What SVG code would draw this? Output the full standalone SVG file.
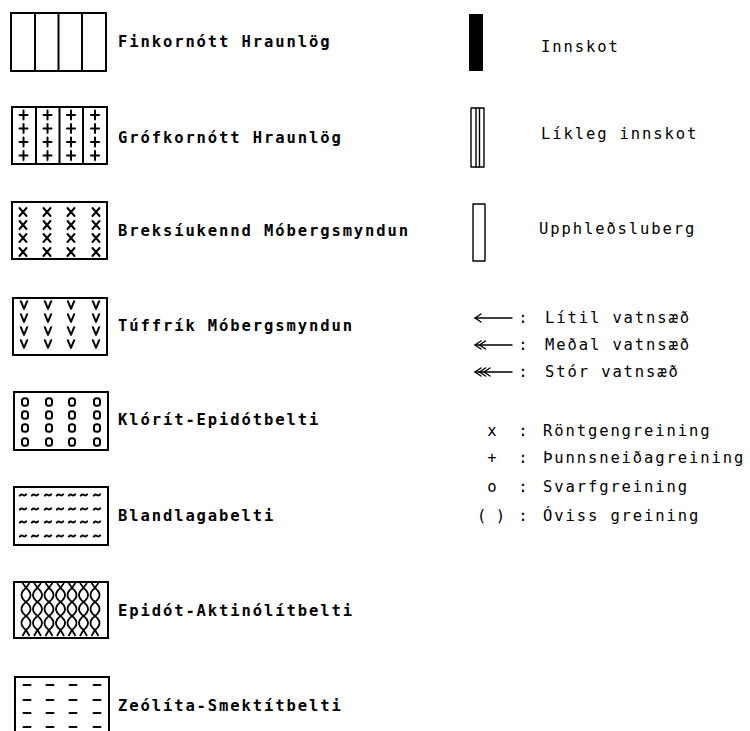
<svg xmlns="http://www.w3.org/2000/svg" xmlns:xlink="http://www.w3.org/1999/xlink" width="750" height="731" viewBox="0 0 750 731">
  <style>
    .frame { fill: #fff; stroke: #000; stroke-width: 2; }
    .ln { fill: none; stroke: #000; stroke-width: 2; stroke-linecap: round; stroke-linejoin: round; }
    .thin { fill: none; stroke: #000; stroke-width: 1.4; stroke-linecap: round; stroke-linejoin: round; }
    text { font-family: "DejaVu Sans Mono", "Liberation Mono", monospace; font-size: 15.5px; font-weight: bold; letter-spacing: 1.9px; fill: #000; }
    .light { font-weight: normal; }
    .mid { text-anchor: middle; letter-spacing: 0; }
  </style>
  <defs>
    <path id="plus" class="ln" d="M0,-4.5 V4.5 M-4,0 H4"/>
    <path id="cross" class="ln" d="M-3.5,-4 L3.5,4 M3.5,-4 L-3.5,4"/>
    <path id="vee" class="ln" d="M-3.2,-3.8 L0,3.8 L3.2,-3.8"/>
    <rect id="ring" class="ln" x="-3" y="-3.8" width="6" height="7.6" rx="2.6"/>
    <path id="wave" class="ln" d="M-3.2,0.6 Q-1.6,-1.2 0,0 T3.2,-0.6"/>
    <path id="dash" class="ln" d="M-3.5,0 H3.5"/>
    <path id="chain" fill="none" stroke="#000" stroke-width="1.8" d="M3.5,583 Q1.5,585.5 0,588 C-6,592.7 -6,597.3 0,602 C6,606.7 6,611.3 0,616 C-6,620.7 -6,625.3 0,630 Q1.5,632.5 3.5,636 M-3.5,583 Q-1.5,585.5 0,588 C6,592.7 6,597.3 0,602 C-6,606.7 -6,611.3 0,616 C6,620.7 6,625.3 0,630 Q-1.5,632.5 -3.5,636"/>
    <path id="chevron" class="thin" d="M6,-4 L0,0 L6,4"/>
  </defs>

  <!-- Rock units: left column -->
  <g id="finkornott">
    <rect class="frame" x="11" y="13" width="95" height="58"/>
    <path class="ln" d="M35,13 V71 M58.5,13 V71 M82,13 V71"/>
    <text x="118" y="47">Finkornótt Hraunlög</text>
  </g>

  <g id="grofkornott">
    <rect class="frame" x="12" y="107" width="95" height="57"/>
    <path class="ln" d="M36,107 V164 M59.5,107 V164 M83,107 V164"/>
    <g>
      <use xlink:href="#plus" x="23.5" y="115"/><use xlink:href="#plus" x="47.5" y="115"/><use xlink:href="#plus" x="71" y="115"/><use xlink:href="#plus" x="95" y="115"/>
      <use xlink:href="#plus" x="23.5" y="128.5"/><use xlink:href="#plus" x="47.5" y="128.5"/><use xlink:href="#plus" x="71" y="128.5"/><use xlink:href="#plus" x="95" y="128.5"/>
      <use xlink:href="#plus" x="23.5" y="142"/><use xlink:href="#plus" x="47.5" y="142"/><use xlink:href="#plus" x="71" y="142"/><use xlink:href="#plus" x="95" y="142"/>
      <use xlink:href="#plus" x="23.5" y="155.5"/><use xlink:href="#plus" x="47.5" y="155.5"/><use xlink:href="#plus" x="71" y="155.5"/><use xlink:href="#plus" x="95" y="155.5"/>
    </g>
    <text x="118" y="143">Grófkornótt Hraunlög</text>
  </g>

  <g id="breksiukennd">
    <rect class="frame" x="12" y="202" width="95" height="57"/>
    <g>
      <use xlink:href="#cross" x="23" y="212"/><use xlink:href="#cross" x="47" y="212"/><use xlink:href="#cross" x="71" y="212"/><use xlink:href="#cross" x="96" y="212"/>
      <use xlink:href="#cross" x="23" y="225"/><use xlink:href="#cross" x="47" y="225"/><use xlink:href="#cross" x="71" y="225"/><use xlink:href="#cross" x="96" y="225"/>
      <use xlink:href="#cross" x="23" y="238"/><use xlink:href="#cross" x="47" y="238"/><use xlink:href="#cross" x="71" y="238"/><use xlink:href="#cross" x="96" y="238"/>
      <use xlink:href="#cross" x="23" y="252"/><use xlink:href="#cross" x="47" y="252"/><use xlink:href="#cross" x="71" y="252"/><use xlink:href="#cross" x="96" y="252"/>
    </g>
    <text x="118" y="236">Breksíukennd Móbergsmyndun</text>
  </g>

  <g id="tuffrik">
    <rect class="frame" x="13" y="298" width="94" height="57"/>
    <g>
      <use xlink:href="#vee" x="24" y="305"/><use xlink:href="#vee" x="48" y="305"/><use xlink:href="#vee" x="71" y="305"/><use xlink:href="#vee" x="96" y="305"/>
      <use xlink:href="#vee" x="24" y="318"/><use xlink:href="#vee" x="48" y="318"/><use xlink:href="#vee" x="71" y="318"/><use xlink:href="#vee" x="96" y="318"/>
      <use xlink:href="#vee" x="24" y="331"/><use xlink:href="#vee" x="48" y="331"/><use xlink:href="#vee" x="71" y="331"/><use xlink:href="#vee" x="96" y="331"/>
      <use xlink:href="#vee" x="24" y="344"/><use xlink:href="#vee" x="48" y="344"/><use xlink:href="#vee" x="71" y="344"/><use xlink:href="#vee" x="96" y="344"/>
    </g>
    <text x="118" y="331">Túffrík Móbergsmyndun</text>
  </g>

  <g id="klorit-epidot">
    <rect class="frame" x="14" y="392" width="94" height="58"/>
    <g>
      <use xlink:href="#ring" x="25" y="402"/><use xlink:href="#ring" x="49" y="402"/><use xlink:href="#ring" x="72" y="402"/><use xlink:href="#ring" x="97" y="402"/>
      <use xlink:href="#ring" x="25" y="415"/><use xlink:href="#ring" x="49" y="415"/><use xlink:href="#ring" x="72" y="415"/><use xlink:href="#ring" x="97" y="415"/>
      <use xlink:href="#ring" x="25" y="428"/><use xlink:href="#ring" x="49" y="428"/><use xlink:href="#ring" x="72" y="428"/><use xlink:href="#ring" x="97" y="428"/>
      <use xlink:href="#ring" x="25" y="442"/><use xlink:href="#ring" x="49" y="442"/><use xlink:href="#ring" x="72" y="442"/><use xlink:href="#ring" x="97" y="442"/>
    </g>
    <text x="118" y="425">Klórít-Epidótbelti</text>
  </g>

  <g id="blandlaga">
    <rect class="frame" x="14" y="487" width="94" height="58"/>
    <g>
      <use xlink:href="#wave" x="23" y="495"/><use xlink:href="#wave" x="35" y="495"/><use xlink:href="#wave" x="48" y="495"/><use xlink:href="#wave" x="60" y="495"/><use xlink:href="#wave" x="72" y="495"/><use xlink:href="#wave" x="84" y="495"/><use xlink:href="#wave" x="97" y="495"/>
      <use xlink:href="#wave" x="23" y="509"/><use xlink:href="#wave" x="35" y="509"/><use xlink:href="#wave" x="48" y="509"/><use xlink:href="#wave" x="60" y="509"/><use xlink:href="#wave" x="72" y="509"/><use xlink:href="#wave" x="84" y="509"/><use xlink:href="#wave" x="97" y="509"/>
      <use xlink:href="#wave" x="23" y="522"/><use xlink:href="#wave" x="35" y="522"/><use xlink:href="#wave" x="48" y="522"/><use xlink:href="#wave" x="60" y="522"/><use xlink:href="#wave" x="72" y="522"/><use xlink:href="#wave" x="84" y="522"/><use xlink:href="#wave" x="97" y="522"/>
      <use xlink:href="#wave" x="23" y="536"/><use xlink:href="#wave" x="35" y="536"/><use xlink:href="#wave" x="48" y="536"/><use xlink:href="#wave" x="60" y="536"/><use xlink:href="#wave" x="72" y="536"/><use xlink:href="#wave" x="84" y="536"/><use xlink:href="#wave" x="97" y="536"/>
    </g>
    <text x="118" y="521">Blandlagabelti</text>
  </g>

  <g id="epidot-aktinolit">
    <rect class="frame" x="14" y="582" width="94" height="56"/>
    <g>
      <use xlink:href="#chain" x="26"/><use xlink:href="#chain" x="37.5"/><use xlink:href="#chain" x="49"/><use xlink:href="#chain" x="60.5"/><use xlink:href="#chain" x="72"/><use xlink:href="#chain" x="83.5"/><use xlink:href="#chain" x="95"/>
    </g>
    <text x="118" y="616">Epidót-Aktinólítbelti</text>
  </g>

  <g id="zeolita-smektit">
    <rect class="frame" x="15" y="677" width="94" height="60"/>
    <g>
      <use xlink:href="#dash" x="27" y="685"/><use xlink:href="#dash" x="50" y="685"/><use xlink:href="#dash" x="73" y="685"/><use xlink:href="#dash" x="97" y="685"/>
      <use xlink:href="#dash" x="27" y="700"/><use xlink:href="#dash" x="50" y="700"/><use xlink:href="#dash" x="73" y="700"/><use xlink:href="#dash" x="97" y="700"/>
      <use xlink:href="#dash" x="27" y="713"/><use xlink:href="#dash" x="50" y="713"/><use xlink:href="#dash" x="73" y="713"/><use xlink:href="#dash" x="97" y="713"/>
      <use xlink:href="#dash" x="27" y="727"/><use xlink:href="#dash" x="50" y="727"/><use xlink:href="#dash" x="73" y="727"/><use xlink:href="#dash" x="97" y="727"/>
    </g>
    <text x="118" y="711">Zeólíta-Smektítbelti</text>
  </g>

  <!-- Intrusions: right column -->
  <g id="innskot">
    <rect x="469" y="14" width="14" height="57" fill="#000"/>
    <text class="light" x="541" y="52">Innskot</text>
  </g>

  <g id="likleg-innskot">
    <rect class="thin" x="471" y="108" width="13" height="59"/>
    <path class="thin" d="M476,108 V167 M479.5,108 V167"/>
    <text class="light" x="541" y="139">Líkleg innskot</text>
  </g>

  <g id="upphledsluberg">
    <rect class="thin" x="473" y="204" width="12" height="57"/>
    <text class="light" x="539" y="234">Upphleðsluberg</text>
  </g>

  <!-- Water inflow arrows -->
  <g id="connectors">
    <g id="litil-arrow">
      <path class="thin" d="M475,318 H512"/>
      <use xlink:href="#chevron" x="475" y="318"/>
    </g>
    <g id="medal-arrow">
      <path class="thin" d="M475,345 H512"/>
      <use xlink:href="#chevron" x="475" y="345"/><use xlink:href="#chevron" x="479.5" y="345"/>
    </g>
    <g id="stor-arrow">
      <path class="thin" d="M475,372 H512"/>
      <use xlink:href="#chevron" x="475" y="372"/><use xlink:href="#chevron" x="479.5" y="372"/><use xlink:href="#chevron" x="484" y="372"/>
    </g>
  </g>

  <g id="vatnsaed-labels">
    <text class="mid light" x="523" y="323">:</text>
    <text class="light" x="545" y="323">Lítil vatnsæð</text>
    <text class="mid light" x="523" y="350">:</text>
    <text class="light" x="545" y="350">Meðal vatnsæð</text>
    <text class="mid light" x="523" y="377">:</text>
    <text class="light" x="545" y="377">Stór vatnsæð</text>
  </g>

  <!-- Analysis method key -->
  <g id="greining">
    <text class="mid light" x="492" y="436">x</text>
    <text class="mid light" x="523" y="436">:</text>
    <text class="light" x="543" y="436">Röntgengreining</text>
    <text class="mid light" x="492" y="463">+</text>
    <text class="mid light" x="523" y="463">:</text>
    <text class="light" x="543" y="463">Þunnsneiðagreining</text>
    <text class="mid light" x="492" y="492">o</text>
    <text class="mid light" x="523" y="492">:</text>
    <text class="light" x="543" y="492">Svarfgreining</text>
    <text class="mid light" x="491" y="521">( )</text>
    <text class="mid light" x="523" y="521">:</text>
    <text class="light" x="543" y="521">Óviss greining</text>
  </g>
</svg>
